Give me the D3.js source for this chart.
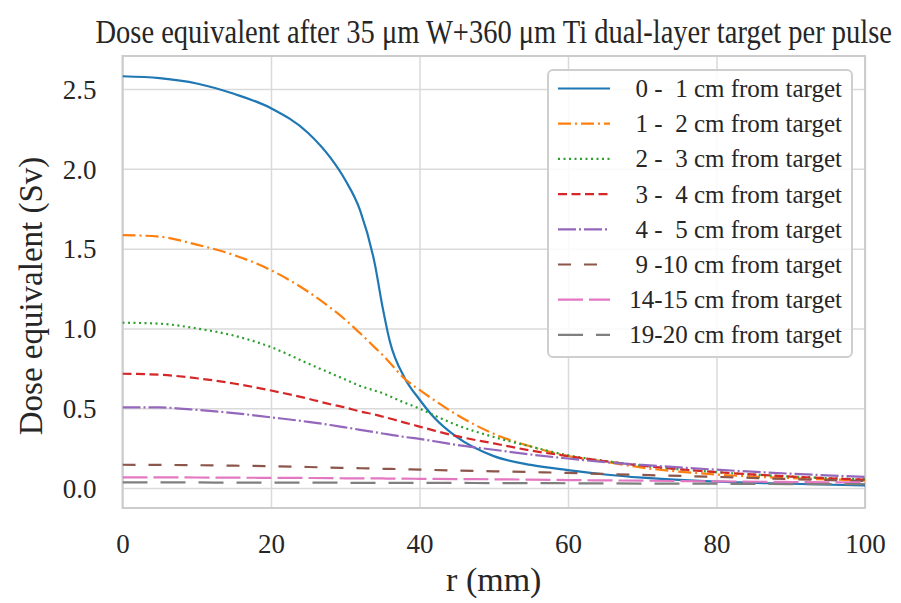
<!DOCTYPE html>
<html>
<head>
<meta charset="utf-8">
<script src="https://cdn.jsdelivr.net/npm/d3@7"></script>
<style>
  body { margin: 0; background: #fff; }
  svg text { font-family: "Liberation Serif", "DejaVu Serif", serif; fill: #262626; }
</style>
</head>
<body>
<div id="chart"></div>
<script>
// radial distance (mm)
var rValues = [0, 5, 10, 15, 20, 25, 28, 30, 32, 34, 35, 36, 38, 40, 42, 45, 50, 55, 60, 65, 70, 80, 90, 100];

// dose equivalent (Sv) per depth slice
var dose0to1   = [2.58, 2.568, 2.535, 2.47, 2.38, 2.225, 2.07, 1.93, 1.74, 1.40, 1.14, 0.92, 0.69, 0.555, 0.44, 0.32, 0.20, 0.145, 0.112, 0.085, 0.065, 0.040, 0.027, 0.016];
var dose1to2   = [1.585, 1.575, 1.525, 1.46, 1.365, 1.23, 1.13, 1.055, 0.97, 0.88, 0.835, 0.785, 0.685, 0.615, 0.55, 0.46, 0.34, 0.26, 0.20, 0.165, 0.128, 0.085, 0.062, 0.048];
var dose2to3   = [1.036, 1.03, 1.0, 0.955, 0.883, 0.78, 0.72, 0.68, 0.64, 0.61, 0.595, 0.575, 0.535, 0.498, 0.455, 0.395, 0.32, 0.26, 0.205, 0.17, 0.14, 0.10, 0.072, 0.055];
var dose3to4   = [0.716, 0.71, 0.688, 0.655, 0.611, 0.56, 0.525, 0.505, 0.48, 0.46, 0.448, 0.436, 0.41, 0.385, 0.36, 0.325, 0.28, 0.235, 0.20, 0.168, 0.14, 0.10, 0.072, 0.052];
var dose4to5   = [0.506, 0.505, 0.49, 0.47, 0.443, 0.415, 0.395, 0.38, 0.365, 0.35, 0.342, 0.335, 0.32, 0.308, 0.293, 0.27, 0.24, 0.21, 0.185, 0.162, 0.145, 0.115, 0.09, 0.07];
var dose9to10  = [0.146, 0.145, 0.143, 0.14, 0.137, 0.132, 0.128, 0.126, 0.124, 0.122, 0.121, 0.12, 0.118, 0.116, 0.113, 0.11, 0.105, 0.10, 0.095, 0.088, 0.082, 0.07, 0.056, 0.044];
var dose14to15 = [0.067, 0.067, 0.066, 0.065, 0.064, 0.063, 0.062, 0.061, 0.061, 0.06, 0.06, 0.059, 0.059, 0.058, 0.057, 0.056, 0.055, 0.053, 0.05, 0.048, 0.046, 0.042, 0.038, 0.035];
var dose19to20 = [0.035, 0.035, 0.035, 0.034, 0.034, 0.034, 0.034, 0.033, 0.033, 0.033, 0.033, 0.033, 0.033, 0.033, 0.032, 0.032, 0.031, 0.031, 0.030, 0.029, 0.028, 0.027, 0.025, 0.024];

var seriesLabels = ["0 -  1 cm from target", "1 -  2 cm from target", "2 -  3 cm from target",
                    "3 -  4 cm from target", "4 -  5 cm from target", "9 -10 cm from target",
                    "14-15 cm from target", "19-20 cm from target"];
var seriesValues = [dose0to1, dose1to2, dose2to3, dose3to4, dose4to5, dose9to10, dose14to15, dose19to20];

var xTicks = [0, 20, 40, 60, 80, 100];
var yTicks = [0.0, 0.5, 1.0, 1.5, 2.0, 2.5];

var colors = ["#1f77b4", "#ff7f0e", "#2ca02c", "#d62728", "#9467bd", "#8c564b", "#e377c2", "#7f7f7f"];
var dashes = ["none", "13,4,2,4", "2,3.5", "9,4.5", "18,3,2,3", "13,13", "25,6", "25,13"];

var width = 901, height = 603;
var margin = { top: 56, right: 36, bottom: 95, left: 122.5 };
var plotW = width - margin.left - margin.right;
var plotH = height - margin.top - margin.bottom;

var svg = d3.select("#chart").append("svg")
    .attr("width", width)
    .attr("height", height);

var x = d3.scaleLinear().domain([0, 100]).range([0, plotW]);
var y = d3.scaleLinear().domain([-0.125, 2.707]).range([plotH, 0]);

var g = svg.append("g")
    .attr("transform", "translate(" + margin.left + "," + margin.top + ")");

// grid + tick labels
var xAxis = d3.axisBottom(x).tickValues(xTicks).tickSize(-plotH).tickFormat(d3.format("d"));
var yAxis = d3.axisLeft(y).tickValues(yTicks).tickSize(-plotW).tickFormat(d3.format(".1f"));

var gx = g.append("g").attr("transform", "translate(0," + plotH + ")").call(xAxis);
var gy = g.append("g").call(yAxis);

[gx, gy].forEach(function (a) {
    a.select(".domain").remove();
    a.selectAll(".tick line").attr("stroke", "#dadada").attr("stroke-width", 1.5);
    a.selectAll(".tick text").style("font-size", "27px").attr("fill", "#262626");
});
gx.selectAll(".tick text").attr("dy", "0").attr("y", 45);
gy.selectAll(".tick text").attr("x", -26).attr("dy", "0.34em");

// frame
g.append("rect")
    .attr("width", plotW).attr("height", plotH)
    .attr("fill", "none").attr("stroke", "#cccccc").attr("stroke-width", 2);

var line = d3.line()
    .x(function (d, i) { return x(rValues[i]); })
    .y(function (d) { return y(d); })
    .curve(d3.curveMonotoneX);

g.append("clipPath").attr("id", "plotclip")
    .append("rect").attr("width", plotW).attr("height", plotH);

g.append("g").attr("clip-path", "url(#plotclip)")
    .selectAll("path")
    .data(seriesValues)
    .enter().append("path")
    .attr("d", line)
    .attr("fill", "none")
    .attr("stroke", function (d, i) { return colors[i]; })
    .attr("stroke-width", 2.2)
    .attr("stroke-dasharray", function (d, i) { return dashes[i]; });

// legend
var legend = g.append("g").attr("transform", "translate(" + (548 - margin.left) + "," + (70 - margin.top) + ")");
legend.append("rect")
    .attr("width", 304).attr("height", 287)
    .attr("rx", 5)
    .attr("fill", "#fff").attr("fill-opacity", 0.85)
    .attr("stroke", "#cfcfcf").attr("stroke-width", 2);

var items = legend.selectAll(".item")
    .data(seriesLabels)
    .enter().append("g")
    .attr("class", "item")
    .attr("transform", function (d, i) { return "translate(0," + (18.5 + i * 35.2) + ")"; });

items.append("line")
    .attr("x1", 10).attr("x2", 62)
    .attr("stroke", function (d, i) { return colors[i]; })
    .attr("stroke-width", 2.2)
    .attr("stroke-dasharray", function (d, i) { return dashes[i]; });

items.append("text")
    .attr("x", 294).attr("dy", "0.34em")
    .attr("text-anchor", "end")
    .attr("xml:space", "preserve")
    .style("font-size", "25px")
    .style("white-space", "pre")
    .text(function (d) { return d; });

// title and axis labels
svg.append("text")
    .attr("transform", "translate(" + (margin.left + plotW / 2) + ",43) scale(1,1.2)")
    .attr("text-anchor", "middle")
    .style("font-size", "28.5px")
    .text("Dose equivalent after 35 \u03bcm W+360 \u03bcm Ti dual-layer target per pulse");

svg.append("text")
    .attr("x", margin.left + plotW / 2).attr("y", 591)
    .attr("text-anchor", "middle")
    .style("font-size", "34px")
    .text("r (mm)");

svg.append("text")
    .attr("transform", "translate(42,296) rotate(-90)")
    .attr("text-anchor", "middle")
    .style("font-size", "33px")
    .text("Dose equivalent (Sv)");
</script>
</body>
</html>
